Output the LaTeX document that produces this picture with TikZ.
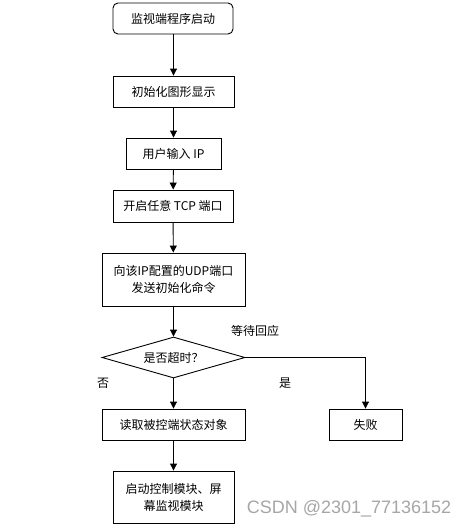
\documentclass[tikz,border=0pt]{standalone}
\usepackage{fontspec}
\newfontfamily\cjk{Noto Sans CJK SC}
\newfontfamily\wm{Liberation Sans}
\usetikzlibrary{shapes.geometric,arrows.meta}
\begin{document}
\begin{tikzpicture}[x=1pt,y=-1pt,
  every node/.style={font=\cjk\fontsize{12}{17}\selectfont},
  box/.style={draw,line width=0.9pt,inner sep=0pt,align=center},
  arr/.style={line width=0.9pt,-{Triangle[width=7pt,length=7pt]}},
  lbl/.style={inner sep=0pt}]
\useasboundingbox (0,0) rectangle (470,527);
\node[box,rounded corners=5pt,minimum width=120pt,minimum height=31pt] (a) at (173,18.5) {监视端程序启动};
\node[box,minimum width=121pt,minimum height=31pt] (b) at (173.5,91.5) {初始化图形显示};
\node[box,minimum width=95pt,minimum height=31pt] (c) at (173.5,153.5) {用户输入 IP};
\node[box,minimum width=120pt,minimum height=32pt] (d) at (173,206) {开启任意 TCP 端口};
\node[box,minimum width=143pt,minimum height=53pt] (e) at (173.5,279.5) {向该IP配置的UDP端口\\发送初始化命令};
\node[box,diamond,aspect=3.5,minimum width=143pt,minimum height=41pt] (f) at (173.5,357.5) {是否超时？};
\node[box,minimum width=143pt,minimum height=31pt] (g) at (173.5,424.5) {读取被控端状态对象};
\node[box,minimum width=73pt,minimum height=31pt] (h) at (365.5,424.5) {失败};
\node[box,minimum width=121pt,minimum height=52pt] (i) at (173.5,497) {启动控制模块、屏\\幕监视模块};
\node[lbl] (t1) at (255,331) {等待回应};
\node[lbl] (t2) at (103,383) {否};
\node[lbl] (t3) at (285,383) {是};
\node[lbl,font=\wm\fontsize{18}{20}\selectfont,text=black!35] (w) at (349,509) {CSDN @2301\_77136152};
\draw[arr] (a.south -| 173.5,0) -- (b);
\draw[arr] (b) -- (c);
\draw[arr] (c) -- (d);
\draw[arr] (d) -- (e);
\draw[arr] (e) -- (f);
\draw[arr] (f) -- (g);
\draw[arr] (f.east) -| (h.north);
\draw[arr] (g) -- (i);
\end{tikzpicture}
\end{document}
